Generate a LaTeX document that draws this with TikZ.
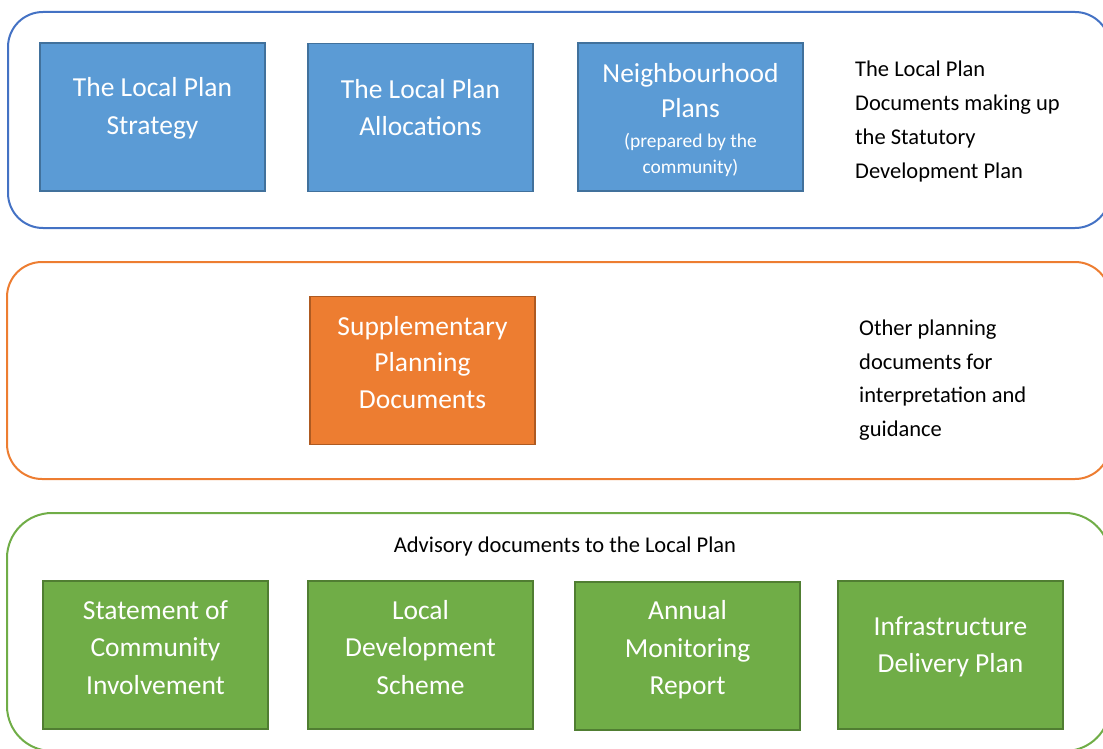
\documentclass[tikz,border=0pt]{standalone}
\usepackage{fontspec}
\setmainfont{Carlito}
\newcommand\bxfont{\fontsize{27.5}{37.5}\selectfont}
\newcommand\lbfont{\fontsize{22.5}{33.7}\selectfont}
\newcommand\smfont{\fontsize{19.5}{26}\selectfont}
\definecolor{bluefill}{HTML}{5B9BD5}
\definecolor{blueline}{HTML}{41719C}
\definecolor{bluecont}{HTML}{4472C4}
\definecolor{orfill}{HTML}{ED7D31}
\definecolor{orline}{HTML}{AE5A21}
\definecolor{grfill}{HTML}{70AD47}
\definecolor{grline}{HTML}{507E32}
\begin{document}
\begin{tikzpicture}[x=1pt,y=-1pt,
  docbox/.style={draw, line width=1.5pt, minimum width=225pt, minimum height=148pt, inner sep=0pt},
  bluebox/.style={docbox, fill=bluefill, draw=blueline},
  orbox/.style={docbox, fill=orfill, draw=orline},
  grbox/.style={docbox, fill=grfill, draw=grline},
  boxtext/.style={text=white, align=center, inner sep=0pt, font=\bxfont},
  sidetext/.style={text=black, align=left, inner sep=0pt, anchor=west, font=\lbfont},
  container/.style={line width=2pt}]
\useasboundingbox (0,0) rectangle (1103,749);
\clip (0,0) rectangle (1103,749);
% containers
\draw[container, draw=bluecont, rounded corners=35pt] (8,12) rectangle (1110,228);
\draw[container, draw=orfill, rounded corners=35pt] (7,262) rectangle (1110,479);
\draw[container, draw=grfill, rounded corners=45pt] (7,513) rectangle (1110,751);
% top row
\node[bluebox] (lps) at (152.5,117) {};
\node[boxtext, font=\fontsize{27.5}{38.5}\selectfont] (lpst) at (152.5,108.5) {The Local Plan\\Strategy};
\node[bluebox] (lpa) at (420.5,117.5) {};
\node[boxtext] (lpat) at (420.5,107.5) {The Local Plan\\Allocations};
\node[bluebox] (np) at (690.5,117) {};
\node[boxtext, font=\fontsize{27.5}{35}\selectfont] (npt) at (690.5,91) {Neighbourhood\\Plans};
\node[boxtext, font=\smfont] (nps) at (690.5,155) {(prepared by the\\community)};
\node[sidetext] (top) at (855,121.5) {The Local Plan\\Documents making up\\the Statutory\\Development Plan};
% middle row
\node[orbox] (spd) at (422.5,370.5) {};
\node[boxtext, font=\fontsize{27.5}{36.5}\selectfont] (spdt) at (422.5,362.5) {Supplementary\\Planning\\Documents};
\node[sidetext] (mid) at (859,380) {Other planning\\documents for\\interpretation and\\guidance};
% bottom row
\node[text=black, inner sep=0pt, font=\lbfont] (adv) at (565,546) {Advisory documents to the Local Plan};
\node[grbox] (sci) at (155.5,655) {};
\node[boxtext] (scit) at (155.5,647.5) {Statement of\\Community\\Involvement};
\node[grbox] (lds) at (420.5,655) {};
\node[boxtext] (ldst) at (420.5,647.5) {Local\\Development\\Scheme};
\node[grbox] (amr) at (687.5,656) {};
\node[boxtext] (amrt) at (687.5,650) {Annual\\Monitoring\\Report};
\node[grbox] (idp) at (950.5,655) {};
\node[boxtext] (idpt) at (950.5,647) {Infrastructure\\Delivery Plan};
\end{tikzpicture}
\end{document}
